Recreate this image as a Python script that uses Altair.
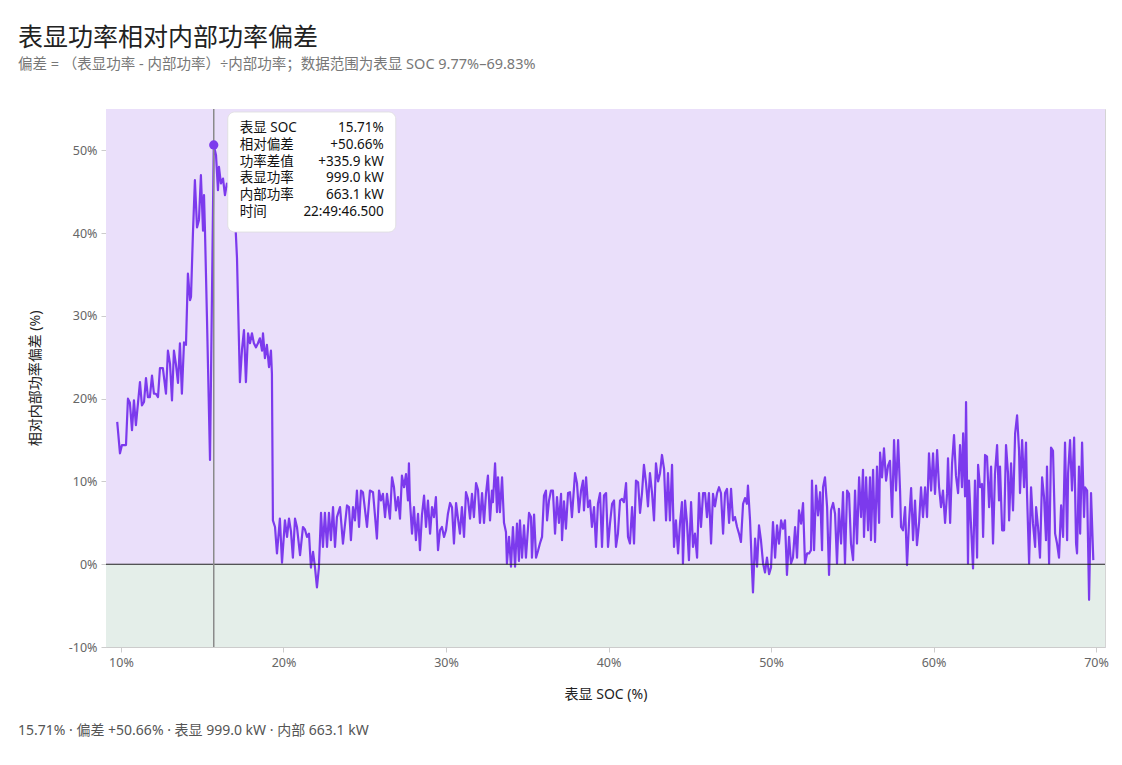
import altair as alt
import pandas as pd

FONT = '"Noto Sans", "Noto Sans CJK SC", sans-serif'
LINE_COLOR = "#7c3aed"

TITLE = "表显功率相对内部功率偏差"
SUBTITLE = "偏差 = （表显功率 - 内部功率）÷内部功率；数据范围为表显 SOC 9.77%–69.83%"
X_TITLE = "表显 SOC (%)"
Y_TITLE = "相对内部功率偏差 (%)"

# (表显 SOC %, 相对偏差 %)
SEG_RAMP = [
    (9.77, 17.2), (9.94, 13.4), (10.06, 14.4), (10.31, 14.4), (10.43, 20.0), (10.55, 19.5),
    (10.68, 16.2), (10.80, 19.8), (10.92, 16.8), (11.17, 22.0), (11.29, 19.2), (11.42, 19.6),
    (11.54, 22.5), (11.66, 20.2), (11.78, 20.2), (11.91, 22.8), (12.03, 20.6), (12.15, 20.6),
    (12.28, 20.2), (12.40, 23.7), (12.58, 23.7), (12.77, 20.6), (12.89, 25.8), (13.02, 24.2),
    (13.14, 19.8), (13.26, 25.8), (13.38, 24.2), (13.51, 21.9), (13.63, 26.7), (13.75, 20.6),
    (13.88, 26.8), (14.00, 26.5), (14.12, 35.1), (14.25, 31.9), (14.31, 32.3), (14.43, 40.0),
    (14.55, 46.4), (14.68, 40.7), (14.80, 41.6), (14.92, 47.0), (15.05, 40.3), (15.11, 44.6),
    (15.17, 40.3), (15.29, 30.0), (15.48, 12.6),
]
SEG_SPIKE = [
    (15.71, 50.66), (15.85, 49.4), (15.97, 45.2), (16.03, 48.0), (16.15, 46.0), (16.28, 46.6),
    (16.40, 44.6), (16.52, 46.0), (16.65, 45.5), (16.77, 46.5), (16.89, 44.0), (17.02, 42.0),
    (17.14, 37.0), (17.32, 22.0), (17.45, 26.0), (17.57, 28.3), (17.69, 22.0), (17.82, 27.9),
    (17.94, 26.7), (18.06, 27.9), (18.18, 26.7), (18.31, 26.2), (18.43, 26.7), (18.55, 27.3),
    (18.68, 25.8), (18.74, 27.9), (18.86, 24.9), (18.98, 26.5), (19.11, 23.8), (19.23, 25.8),
    (19.29, 23.0),
]
SEG_20S = [
    (19.35, 5.3), (19.48, 4.5), (19.60, 1.3), (19.78, 5.5), (19.91, 0.2), (20.09, 5.3),
    (20.22, 3.3), (20.34, 5.5), (20.46, 4.0), (20.58, 0.8), (20.71, 5.5), (20.83, 4.5),
    (21.02, 1.1), (21.20, 4.5), (21.32, 4.2), (21.45, 3.3), (21.57, 3.7), (21.69, -0.4),
    (21.82, 1.5), (21.94, -0.4), (22.06, -2.8), (22.18, -0.4), (22.31, 6.2), (22.43, 2.1),
    (22.55, 6.2), (22.68, 2.1), (22.80, 6.2), (22.92, 2.9), (23.05, 6.9), (23.17, 2.1),
    (23.29, 5.7), (23.48, 6.9), (23.66, 2.5), (23.91, 7.1), (24.03, 6.9), (24.15, 2.9),
    (24.28, 6.9), (24.40, 5.3), (24.52, 8.9), (24.65, 4.5), (24.77, 8.9), (24.89, 8.7),
    (25.14, 4.5), (25.32, 8.9), (25.51, 8.7), (25.75, 3.1), (25.88, 8.9), (26.00, 7.7),
    (26.12, 8.5), (26.25, 5.7), (26.37, 8.5), (26.55, 5.5), (26.68, 10.5), (26.80, 9.3),
    (26.92, 6.5), (27.05, 8.1), (27.17, 5.5), (27.29, 10.7), (27.42, 9.3), (27.54, 10.9),
    (27.66, 7.7), (27.72, 12.2), (27.78, 7.7), (27.91, 3.7), (28.03, 6.9), (28.15, 2.9),
    (28.28, 6.1), (28.40, 1.7), (28.52, 5.9), (28.65, 8.3), (28.77, 4.5), (28.89, 7.7),
    (29.02, 3.7), (29.14, 6.9), (29.26, 5.7), (29.38, 8.1), (29.51, 1.7), (29.63, 4.1),
    (29.75, 4.5), (29.88, 3.3),
]
SEG_30S = [
    (30.00, 4.1), (30.12, 6.1), (30.25, 7.4), (30.37, 6.9), (30.49, 2.5), (30.62, 7.4),
    (30.74, 5.5), (30.86, 3.7), (30.98, 6.9), (31.11, 3.3), (31.23, 8.7), (31.35, 7.9),
    (31.48, 5.5), (31.60, 8.5), (31.72, 5.7), (31.85, 9.8), (31.97, 9.0), (32.09, 5.0),
    (32.22, 8.6), (32.34, 5.0), (32.46, 8.5), (32.58, 10.7), (32.71, 5.3), (32.83, 8.9),
    (32.89, 7.5), (33.02, 12.2), (33.14, 6.3), (33.20, 10.5), (33.32, 6.3), (33.45, 10.5),
    (33.57, 5.0), (33.69, 3.9), (33.75, 0.1), (33.88, 3.3), (34.00, -0.3), (34.12, 4.5),
    (34.25, -0.3), (34.37, 4.9), (34.49, 0.4), (34.55, 5.3), (34.68, 0.8), (34.80, 4.7),
    (34.92, 0.8), (35.11, 6.2), (35.23, 5.7), (35.29, 0.8), (35.42, 6.0), (35.54, 0.8),
    (35.66, 1.6), (35.78, 2.5), (35.91, 3.3), (36.03, 8.3), (36.15, 8.9), (36.22, 5.3),
    (36.34, 7.7), (36.46, 8.9), (36.58, 8.9), (36.71, 3.7), (36.83, 8.1), (36.95, 5.0),
    (37.08, 8.5), (37.14, 2.9), (37.26, 7.6), (37.38, 4.3), (37.51, 8.6), (37.63, 8.7),
    (37.75, 5.7), (37.94, 11.0), (38.06, 9.8), (38.18, 6.3), (38.31, 8.9), (38.43, 10.1),
    (38.49, 6.5), (38.62, 10.5), (38.74, 6.9), (38.86, 7.7), (38.98, 4.5), (39.11, 6.9),
    (39.23, 2.1), (39.35, 7.3), (39.48, 8.6), (39.60, 2.1), (39.72, 8.3), (39.85, 8.6),
    (39.97, 2.1),
]
SEG_40S = [
    (40.09, 4.9), (40.22, 7.3), (40.34, 7.7), (40.46, 2.1), (40.58, 3.7), (40.71, 7.7),
    (40.83, 7.9), (40.95, 7.5), (41.08, 9.8), (41.20, 3.3), (41.32, 2.5), (41.45, 6.9),
    (41.57, 2.5), (41.69, 10.1), (41.82, 9.9), (41.94, 6.2), (42.06, 8.6), (42.18, 12.0),
    (42.31, 9.8), (42.43, 7.0), (42.55, 11.0), (42.68, 8.6), (42.80, 5.3), (42.92, 12.2),
    (43.05, 10.0), (43.17, 11.0), (43.29, 13.2), (43.42, 11.5), (43.54, 5.3), (43.66, 11.0),
    (43.78, 5.3), (43.91, 12.0), (44.03, 2.1), (44.15, 5.3), (44.28, 1.3), (44.40, 5.0),
    (44.52, 7.5), (44.58, 0.1), (44.71, 7.7), (44.83, 5.0), (44.95, 0.5), (45.08, 7.5),
    (45.20, 2.1), (45.32, 3.7), (45.45, 0.8), (45.57, 8.6), (45.69, 4.5), (45.82, 8.6),
    (45.94, 8.6), (46.06, 5.7), (46.18, 8.6), (46.31, 2.5), (46.43, 8.5), (46.55, 7.0),
    (46.68, 8.6), (46.80, 9.3), (46.92, 8.6), (47.05, 3.7), (47.17, 8.6), (47.29, 9.1),
    (47.42, 5.0), (47.54, 9.1), (47.66, 5.3), (47.78, 5.7), (47.91, 4.5), (48.03, 3.7),
    (48.15, 2.7), (48.28, 7.3), (48.40, 8.0), (48.52, 7.3), (48.58, 9.5), (48.71, 5.3),
    (48.83, -0.7), (48.89, -3.4), (49.02, 3.1), (49.14, -0.3), (49.26, 4.7), (49.38, 2.9),
    (49.51, 0.1), (49.63, -1.0), (49.75, 0.8), (49.88, -1.2),
]
SEG_50S = [
    (50.00, -0.4), (50.12, 5.1), (50.25, 0.8), (50.37, 4.7), (50.49, 2.5), (50.62, 5.3),
    (50.74, 4.3), (50.86, 5.3), (50.98, -1.3), (51.11, 3.3), (51.23, 0.1), (51.35, 0.8),
    (51.48, 4.5), (51.60, 0.8), (51.72, 6.5), (51.85, 4.9), (51.97, 7.4), (52.09, 0.1),
    (52.22, 1.3), (52.34, 1.3), (52.46, 1.7), (52.52, 10.1), (52.65, 1.7), (52.77, 9.5),
    (52.89, 5.9), (53.02, 8.7), (53.14, 1.7), (53.20, 9.3), (53.32, 10.5), (53.45, 6.9),
    (53.57, -1.3), (53.69, 6.5), (53.82, 7.4), (53.94, 6.1), (54.06, 0.1), (54.18, 6.7),
    (54.31, 2.5), (54.43, 8.7), (54.55, 0.1), (54.68, 8.9), (54.80, 8.5), (54.92, 2.5),
    (55.05, 0.5), (55.17, 8.9), (55.29, 2.5), (55.42, 10.5), (55.54, 5.7), (55.66, 11.4),
    (55.72, 3.3), (55.85, 10.5), (55.97, 4.1), (56.09, 10.5), (56.15, 2.9), (56.28, 11.4),
    (56.40, 2.7), (56.52, 11.8), (56.65, 5.0), (56.71, 13.5), (56.83, 10.5), (56.95, 14.0),
    (57.08, 10.1), (57.20, 11.9), (57.32, 12.5), (57.45, 5.7), (57.57, 15.0), (57.69, 8.9),
    (57.82, 15.0), (57.94, 8.9), (58.00, 4.5), (58.12, 4.1), (58.25, 6.9), (58.37, -0.1),
    (58.49, 5.0), (58.62, 9.2), (58.74, 2.9), (58.86, 7.7), (58.98, 2.3), (59.11, 5.0),
    (59.23, 9.3), (59.35, 5.7), (59.48, 9.3), (59.60, 5.7), (59.72, 13.4), (59.85, 8.9),
    (59.97, 13.4),
]
SEG_60S = [
    (60.09, 8.5), (60.22, 13.8), (60.34, 9.3), (60.46, 6.9), (60.58, 8.9), (60.71, 5.0),
    (60.83, 8.5), (60.89, 12.8), (61.02, 5.0), (61.14, 12.2), (61.26, 15.6), (61.38, 10.7),
    (61.51, 8.6), (61.63, 14.4), (61.75, 9.3), (61.82, 15.8), (61.94, 8.2), (62.00, 19.6),
    (62.12, 0.1), (62.18, 10.1), (62.31, 4.5), (62.43, -0.5), (62.55, 10.1), (62.68, 0.8),
    (62.74, 12.0), (62.86, 9.3), (62.98, 9.7), (63.05, 3.3), (63.17, 13.2), (63.29, 13.0),
    (63.42, 6.9), (63.54, 11.8), (63.66, 2.5), (63.78, 10.9), (63.91, 14.4), (64.03, 7.7),
    (64.09, 11.8), (64.22, 4.1), (64.34, 4.1), (64.46, 14.4), (64.58, 11.0), (64.65, 5.3),
    (64.77, 12.2), (64.89, 6.5), (65.02, 15.8), (65.14, 18.0), (65.26, 13.8), (65.32, 8.6),
    (65.45, 15.0), (65.57, 9.3), (65.69, 14.7), (65.75, 8.6), (65.88, 0.1), (66.00, 9.3),
    (66.12, 4.9), (66.25, 2.1), (66.31, 6.9), (66.43, 4.5), (66.55, 0.8), (66.68, 10.5),
    (66.80, 8.1), (66.92, 2.9), (66.98, 11.8), (67.11, 0.1), (67.23, 14.1), (67.35, 13.7),
    (67.48, 3.7), (67.60, 2.5), (67.72, 0.8), (67.85, 7.1), (67.97, 3.3), (68.09, 14.7),
    (68.22, 2.9), (68.28, 11.0), (68.40, 15.0), (68.52, 8.9), (68.65, 15.3), (68.77, 2.5),
    (68.83, 1.3), (68.95, 11.8), (69.02, 3.7), (69.14, 14.7), (69.26, 5.7), (69.32, 9.3),
    (69.45, 8.9), (69.57, -4.3), (69.69, 8.6), (69.83, 0.5),
]

# highlighted sample (hover readout)
HL_SOC = 15.71
HL_DEV = 50.66
HL_DIFF_KW = 335.9
HL_SHOWN_KW = 999.0
HL_INNER_KW = 663.1
HL_TIME = "22:49:46.500"

X_DOMAIN = [9.08, 70.55]
Y_DOMAIN = [-10, 55]
X_TICKS = [10, 20, 30, 40, 50, 60, 70]
Y_TICKS = [-10, 0, 10, 20, 30, 40, 50]

BAND_LO = [0, -10]
BAND_HI = [55, 0]
BAND_COLORS = ["#eadffa", "#e4eee9"]

W, H = 999, 538

rows = SEG_RAMP + SEG_SPIKE + SEG_20S + SEG_30S + SEG_40S + SEG_50S + SEG_60S
df = pd.DataFrame(rows, columns=["soc", "dev"])
bands = pd.DataFrame({"lo": BAND_LO, "hi": BAND_HI, "c": BAND_COLORS})
hl = pd.DataFrame({"soc": [HL_SOC], "dev": [HL_DEV]})

x_scale = alt.Scale(domain=X_DOMAIN, nice=False, zero=False)
y_scale = alt.Scale(domain=Y_DOMAIN, nice=False)

band_layer = alt.Chart(bands).mark_rect().encode(
    x=alt.value(0),
    x2=alt.value(W),
    y=alt.Y("hi:Q", scale=y_scale),
    y2="lo:Q",
    color=alt.Color("c:N", scale=None),
)

line = alt.Chart(df).mark_line(color=LINE_COLOR, strokeWidth=2.2, strokeJoin="round").encode(
    x=alt.X("soc:Q", scale=x_scale, title=X_TITLE,
            axis=alt.Axis(values=X_TICKS, labelExpr="datum.value + '%'", grid=False)),
    y=alt.Y("dev:Q", scale=y_scale, title=Y_TITLE,
            axis=alt.Axis(values=Y_TICKS, labelExpr="datum.value + '%'")),
)

zero_rule = alt.Chart(hl).mark_rule(color="#222", strokeWidth=1.2).encode(y=alt.datum(0))

hl_rule = alt.Chart(hl).mark_rule(color="#8a8a8a", strokeWidth=1.5).encode(x="soc:Q")

hl_point = alt.Chart(hl).mark_circle(size=85, color=LINE_COLOR, opacity=1).encode(
    x="soc:Q", y="dev:Q"
)

# readout box next to the highlighted sample
box = alt.Chart(hl).mark_rect(
    fill="white", stroke="#dddddd", strokeWidth=0.8, cornerRadius=7,
    xOffset=14, x2Offset=182,
).encode(x="soc:Q", x2="soc:Q", y=alt.value(3), y2=alt.value(123))

labels = ["表显 SOC", "相对偏差", "功率差值", "表显功率", "内部功率", "时间"]
values = [
    f"{HL_SOC:.2f}%",
    f"+{HL_DEV:.2f}%",
    f"+{HL_DIFF_KW:.1f} kW",
    f"{HL_SHOWN_KW:.1f} kW",
    f"{HL_INNER_KW:.1f} kW",
    HL_TIME,
]

box_labels = alt.Chart(hl).mark_text(
    align="left", baseline="top", dx=26, fontSize=13.5, lineHeight=16.8, color="#111", font=FONT
).encode(x="soc:Q", y=alt.value(12), text=alt.value(labels))

box_values = alt.Chart(hl).mark_text(
    align="right", baseline="top", dx=170, fontSize=13.5, lineHeight=16.8, color="#111", font=FONT
).encode(x="soc:Q", y=alt.value(12), text=alt.value(values))

footer_txt = (f"{HL_SOC:.2f}% · 偏差 +{HL_DEV:.2f}% · 表显 {HL_SHOWN_KW:.1f} kW"
              f" · 内部 {HL_INNER_KW:.1f} kW")
footer = alt.Chart(hl).mark_text(
    align="left", baseline="middle", fontSize=14, color="#555", font=FONT
).encode(x=alt.value(-88), y=alt.value(622), text=alt.value(footer_txt))

chart = alt.layer(
    band_layer, line, zero_rule, hl_rule, hl_point, box, box_labels, box_values, footer
).properties(
    width=W,
    height=H,
    autosize=alt.AutoSizeParams(type="none"),
    padding={"left": 98, "top": 101, "right": 9, "bottom": 110},
    title=alt.TitleParams(
        text=TITLE,
        subtitle=SUBTITLE,
        anchor="start",
        frame="group",
        dx=-88,
        offset=37,
        fontSize=25,
        fontWeight="normal",
        color="#222",
        font=FONT,
        subtitleFont=FONT,
        subtitleFontSize=14.5,
        subtitleColor="#777",
        subtitlePadding=7,
    ),
).configure(
    font=FONT
).configure_view(
    stroke="#d4d4d4", strokeWidth=1
).configure_axis(
    labelColor="#666",
    labelFontSize=12.5,
    labelFont=FONT,
    tickColor="#cccccc",
    domainColor="#cccccc",
    gridColor="#d9cdef",
    titleColor="#222",
    titleFontSize=14,
    titleFontWeight="normal",
    titleFont=FONT,
).configure_axisY(
    titlePadding=26,
    labelPadding=4,
).configure_axisX(
    titlePadding=19,
    labelPadding=4,
)

chart.save("out.html", embed_options={"renderer": "svg", "actions": False})
